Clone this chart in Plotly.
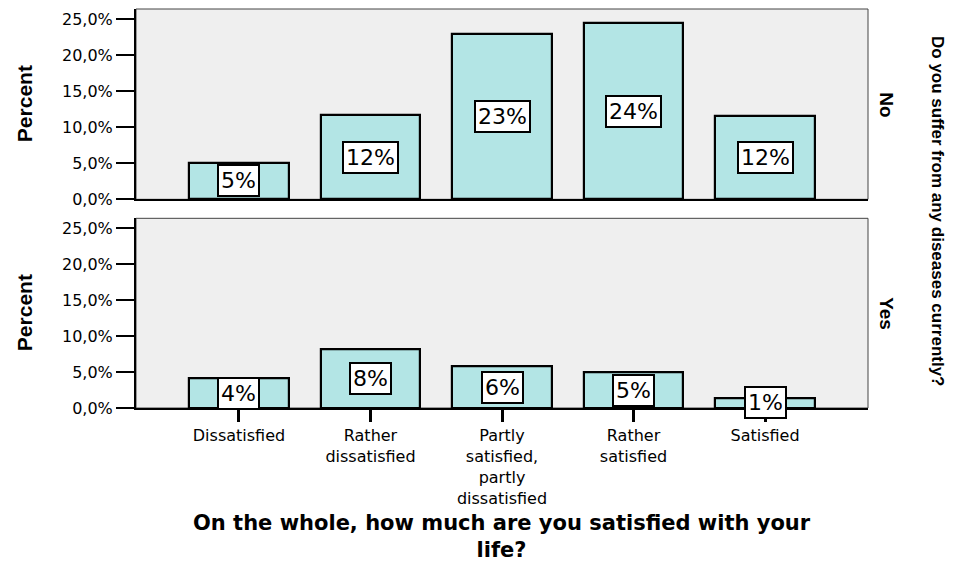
import plotly.graph_objects as go

categories = ["Dissatisfied", "Rather<br>dissatisfied",
              "Partly<br>satisfied,<br>partly<br>dissatisfied",
              "Rather<br>satisfied", "Satisfied"]
no_values = [5.1, 11.7, 23.0, 24.5, 11.6]
yes_values = [4.1, 8.1, 5.8, 5.0, 1.4]
no_labels = ["5%", "12%", "23%", "24%", "12%"]
yes_labels = ["4%", "8%", "6%", "5%", "1%"]
tick_vals = [0, 5, 10, 15, 20, 25]
tick_text = ["0,0%", "5,0%", "10,0%", "15,0%", "20,0%", "25,0%"]
panel_names = ["No", "Yes"]

BAR_COLOR = "#b3e5e5"
BG = "#efefef"
FONT = "DejaVu Sans"
ARIAL = "Liberation Sans, Arial"

fig = go.Figure()
for vals, xa, ya in [(no_values, "x", "y"), (yes_values, "x2", "y2")]:
    fig.add_trace(go.Bar(
        x=categories, y=vals, xaxis=xa, yaxis=ya, width=0.757,
        marker=dict(color=BAR_COLOR, line=dict(color="black", width=2.2)),
        showlegend=False, hoverinfo="skip"))

annotations = []
for vals, labs, xa, ya in [(no_values, no_labels, "x", "y"),
                           (yes_values, yes_labels, "x2", "y2")]:
    for c, v, t in zip(categories, vals, labs):
        annotations.append(dict(
            x=c, y=v / 2, xref=xa, yref=ya, text=t, showarrow=False,
            font=dict(family=FONT, size=22, color="black"),
            bgcolor="white", bordercolor="black", borderwidth=2, borderpad=2))

for name, ya in zip(panel_names, ["y", "y2"]):
    annotations.append(dict(
        x=(24 - 136) / 732, y=0.5, xref="paper", yref=ya + " domain",
        xanchor="center", yanchor="middle",
        text="<b>Percent</b>", textangle=-90, showarrow=False,
        font=dict(family=ARIAL, size=21, color="black")))
    annotations.append(dict(
        x=(887 - 136) / 732, y=0.5, xref="paper", yref=ya + " domain",
        xanchor="center", yanchor="middle",
        text="<b>" + name + "</b>", textangle=90, showarrow=False,
        font=dict(family=ARIAL, size=19, color="black")))

annotations.append(dict(
    x=(938 - 136) / 732, y=(408 - 211) / 399, xref="paper", yref="paper",
    xanchor="center", yanchor="middle",
    text="<b>Do you suffer from any diseases currently?</b>", textangle=90,
    showarrow=False, font=dict(family=ARIAL, size=17, color="black")))

annotations.append(dict(
    x=0.5, y=(408 - 509) / 399, xref="paper", yref="paper",
    xanchor="center", yanchor="top",
    text="<b>On the whole, how much are you satisfied with your<br>life?</b>",
    showarrow=False, font=dict(family=FONT, size=21, color="black")))

shapes = []
for xa, ya in [("x", "y"), ("x2", "y2")]:
    shapes.append(dict(type="rect", xref=xa + " domain", yref=ya + " domain",
                       x0=0, x1=1, y0=0, y1=1, line=dict(color="#444", width=1),
                       layer="below"))

xrange = [-0.783, 4.783]
yaxis_common = dict(range=[0, 26.4], tickvals=tick_vals, ticktext=tick_text,
                    ticks="outside", ticklen=18, tickwidth=2, tickcolor="black",
                    showline=True, linecolor="black", linewidth=2,
                    showgrid=False, zeroline=False,
                    tickfont=dict(family=FONT, size=16, color="black"))

fig.update_layout(
    width=955, height=564, autosize=False,
    margin=dict(l=136, r=87, t=9, b=156),
    plot_bgcolor=BG, paper_bgcolor="white",
    bargap=0,
    xaxis=dict(domain=[0, 1], anchor="y", range=xrange, type="category",
               categoryorder="array", categoryarray=categories,
               showticklabels=False, ticks="", showline=True,
               linecolor="black", linewidth=2, showgrid=False),
    xaxis2=dict(domain=[0, 1], anchor="y2", range=xrange, type="category",
                categoryorder="array", categoryarray=categories,
                ticks="outside", ticklen=12, tickwidth=2.5, tickcolor="black",
                showline=True, linecolor="black", linewidth=2, showgrid=False,
                tickfont=dict(family=FONT, size=16, color="black")),
    yaxis=dict(domain=[0.523, 1], anchor="x", **yaxis_common),
    yaxis2=dict(domain=[0, 0.4754], anchor="x2", **yaxis_common),
    annotations=annotations,
    shapes=shapes,
)

fig.write_html("out.html",
               config={"displayModeBar": False},
               post_script="document.body.style.margin='0';"
                           "document.body.style.overflow='hidden';")
